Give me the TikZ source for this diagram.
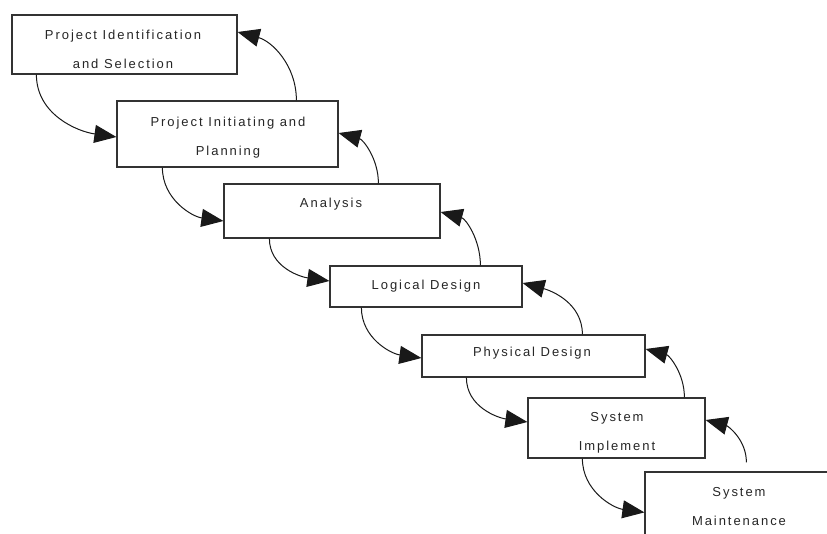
\documentclass[tikz,border=0pt]{standalone}
\usepackage{fontspec}
\newfontfamily\lblfont{Liberation Sans}[LetterSpace=15]
\usetikzlibrary{arrows.meta,calc}
\tikzset{
  stage/.style={draw=black!80, line width=1.2pt, fill=white, rectangle},
  lbl/.style={align=center, text=black!85, inner sep=0pt,
    font=\lblfont\fontsize{13}{29}\selectfont},
  flow/.style={draw=black!90, line width=1pt,
    -{Triangle[length=22pt,width=18pt]}},
}
\begin{document}
\begin{tikzpicture}[x=1pt,y=1pt]
\useasboundingbox (0,0) rectangle (827,-534);
\clip (0,0) rectangle (827,-534);
\fill[white] (0,0) rectangle (827,-534);

% stage boxes
\node[stage, minimum width=225pt, minimum height=59pt] (b1) at (124.5,-44.5) {};
\node[stage, minimum width=221pt, minimum height=66pt] (b2) at (227.5,-134) {};
\node[stage, minimum width=216pt, minimum height=54pt] (b3) at (332,-211) {};
\node[stage, minimum width=192pt, minimum height=41pt] (b4) at (426,-286.5) {};
\node[stage, minimum width=223pt, minimum height=42pt] (b5) at (533.5,-356) {};
\node[stage, minimum width=177pt, minimum height=60pt] (b6) at (616.5,-428) {};
\node[stage, minimum width=195pt, minimum height=88pt] (b7) at (742.5,-516) {};

% stage names
\node[lbl] (t1) at (123,-49) {Project Identification\\and Selection};
\node[lbl] (t2) at (228,-137.5) {Project Initiating and\\Planning};
\node[lbl] (t3) at (331,-204.5) {Analysis};
\node[lbl] (t4) at (426,-286.5) {Logical Design};
\node[lbl] (t5) at (532,-353.5) {Physical Design};
\node[lbl] (t6) at (617,-433) {System\\Implement};
\node[lbl] (t7) at (739,-506.5) {System\\Maintenance};

% forward flow: bottom of a stage into the left side of the next
\draw[flow] ($(b1.south west)+(25,0)$) to[out=-90,in=172] ($(b2.west)+(0,-3)$);
\draw[flow] ($(b2.south west)+(46,0)$) to[out=-90,in=172] ($(b3.west)+(0,-10)$);
\draw[flow] ($(b3.south west)+(46,0)$) to[out=-90,in=172] ($(b4.west)+(0,5.5)$);
\draw[flow] ($(b4.south west)+(32,0)$) to[out=-90,in=172] ($(b5.west)+(0,-2)$);
\draw[flow] ($(b5.south west)+(45,0)$) to[out=-90,in=172] ($(b6.west)+(0,6)$);
\draw[flow] ($(b6.south west)+(55,0)$) to[out=-90,in=172] ($(b7.north west)+(0,-41)$);

% feedback flow: top of a stage back to the right side of the previous
\draw[flow] ($(b2.north west)+(180,0)$) to[out=90,in=-15] ($(b1.east)+(0,12.5)$);
\draw[flow] ($(b3.north west)+(155,0)$) to[out=90,in=-15] ($(b2.east)+(0,1)$);
\draw[flow] ($(b4.north west)+(151,0)$) to[out=90,in=-15] ($(b3.east)+(0,-1)$);
\draw[flow] ($(b5.north west)+(161,0)$) to[out=90,in=-15] ($(b4.east)+(0,3.5)$);
\draw[flow] ($(b6.north west)+(157,0)$) to[out=90,in=-15] ($(b5.east)+(0,7)$);
\draw[flow] ($(b7.north west)+(102,9)$) to[out=90,in=-15] ($(b6.east)+(0,8)$);
\end{tikzpicture}
\end{document}
